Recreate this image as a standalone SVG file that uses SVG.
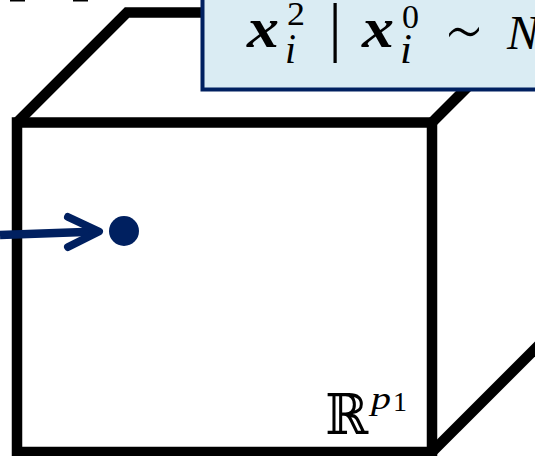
<svg xmlns="http://www.w3.org/2000/svg" width="535" height="456" viewBox="0 0 535 456">
<style>
.edge{fill:none;stroke:#000;stroke-width:10.5;stroke-linejoin:miter;stroke-linecap:butt}
.navy{stroke:#002060;fill:none}
</style>
<rect width="535" height="456" fill="#fff"/>
<rect x="10" y="0" width="15" height="1.5" fill="#000"/>
<rect x="73" y="0" width="15" height="1.5" fill="#000"/>
<g id="cube">
<path class="edge" d="M17,122.5 H432 V452 H17 Z"/>
<path class="edge" d="M17,122.5 L127,12.5 H560"/>
<path class="edge" d="M432,122.5 L542,12.5"/>
<path class="edge" d="M432,452 L542,342"/>
<text font-family="DejaVu Serif, serif" x="325" y="434" font-size="56" textLength="43" lengthAdjust="spacingAndGlyphs" fill="#000">ℝ</text>
<text font-family="Liberation Serif, serif" font-style="italic" x="371" y="409" font-size="32" textLength="20" lengthAdjust="spacingAndGlyphs" fill="#000">p</text>
<text font-family="Liberation Serif, serif" x="393" y="411" font-size="27" textLength="14" lengthAdjust="spacingAndGlyphs" fill="#000">1</text>
</g>
<g id="point">
<circle cx="124" cy="231" r="15" fill="#002060"/>
</g>
<g id="connectors">
<path class="navy" d="M0,235 L98,231.5" stroke-width="8.5"/>
<path class="navy" d="M68,217 L99,231.5 L68,247" stroke-width="8" stroke-linecap="round" stroke-linejoin="round"/>
</g>
<g id="formula" font-family="Liberation Serif, serif" fill="#000">
<rect x="202.5" y="-20" width="400" height="109.5" fill="#daecf3" stroke="#002060" stroke-width="4"/>
<text font-weight="bold" font-style="italic" x="247" y="47" font-size="56" textLength="32" lengthAdjust="spacingAndGlyphs">x</text>
<text x="287" y="25" font-size="34" textLength="18" lengthAdjust="spacingAndGlyphs">2</text>
<text font-style="italic" x="285" y="63" font-size="42" textLength="11" lengthAdjust="spacingAndGlyphs">i</text>
<text x="335" y="49" font-size="66" text-anchor="middle">|</text>
<text font-weight="bold" font-style="italic" x="362" y="47" font-size="56" textLength="32" lengthAdjust="spacingAndGlyphs">x</text>
<text x="402" y="28" font-size="34" textLength="17" lengthAdjust="spacingAndGlyphs">0</text>
<text font-style="italic" x="400" y="63" font-size="42" textLength="12" lengthAdjust="spacingAndGlyphs">i</text>
<text font-family="DejaVu Sans, sans-serif" font-weight="200" x="444" y="60" font-size="80" textLength="40" lengthAdjust="spacingAndGlyphs">∼</text>
<text font-style="italic" x="507" y="49" font-size="48">N</text>
</g>
</svg>
